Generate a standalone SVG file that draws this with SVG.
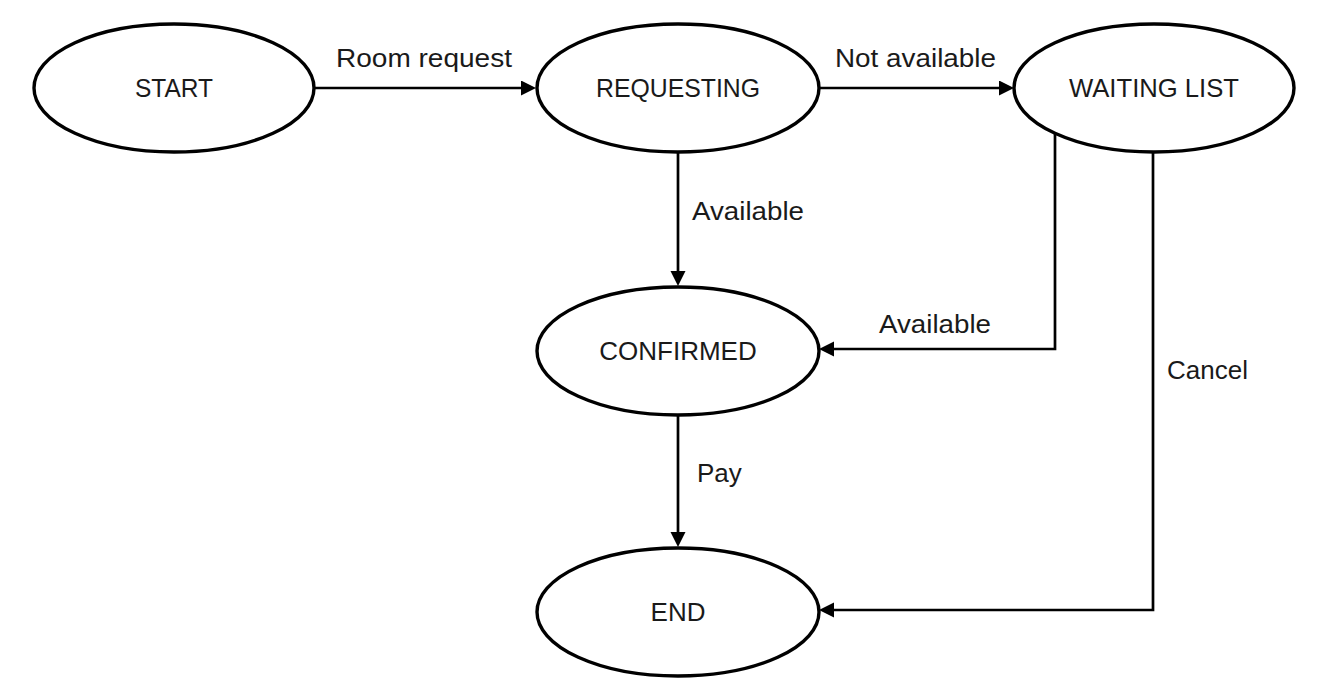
<svg xmlns="http://www.w3.org/2000/svg" width="1330" height="684" viewBox="0 0 1330 684">
  <style>
    .node ellipse { fill: #ffffff; stroke: #000000; stroke-width: 3.4; }
    .node text { font-family: "Liberation Sans", Arial, sans-serif; font-size: 26px; fill: #1a1a1a; text-anchor: middle; }
    .edge { fill: none; stroke: #000000; stroke-width: 2.7; marker-end: url(#arrow); }
    .label { font-family: "Liberation Sans", Arial, sans-serif; font-size: 26px; fill: #1a1a1a; }
  </style>
  <defs>
    <marker id="arrow" markerUnits="userSpaceOnUse" markerWidth="16" markerHeight="16" refX="8" refY="7.5" orient="auto">
      <path d="M0,0 L15,7.5 L0,15 z" fill="#000000"/>
    </marker>
  </defs>
  <rect width="1330" height="684" fill="#ffffff"/>

  <g id="connectors">
    <path class="edge" d="M314,88 H529"/>
    <path class="edge" d="M819,88 H1007"/>
    <path class="edge" d="M678,152 V279"/>
    <path class="edge" d="M1055,133 V349 H826"/>
    <path class="edge" d="M1153,152 V610 H826"/>
    <path class="edge" d="M678,415 V540"/>
    <text class="label" x="336" y="67" textLength="176" lengthAdjust="spacingAndGlyphs">Room request</text>
    <text class="label" x="835" y="67" textLength="161" lengthAdjust="spacingAndGlyphs">Not available</text>
    <text class="label" x="692" y="220" textLength="112" lengthAdjust="spacingAndGlyphs">Available</text>
    <text class="label" x="879" y="333" textLength="112" lengthAdjust="spacingAndGlyphs">Available</text>
    <text class="label" x="1167" y="379">Cancel</text>
    <text class="label" x="697" y="482">Pay</text>
  </g>

  <g id="start" class="node">
    <ellipse cx="174" cy="88" rx="140" ry="64"/>
    <text x="174" y="97" textLength="78" lengthAdjust="spacingAndGlyphs">START</text>
  </g>
  <g id="requesting" class="node">
    <ellipse cx="678" cy="88" rx="141" ry="64"/>
    <text x="678" y="97" textLength="164" lengthAdjust="spacingAndGlyphs">REQUESTING</text>
  </g>
  <g id="waiting-list" class="node">
    <ellipse cx="1154" cy="88" rx="140" ry="64"/>
    <text x="1154" y="97" textLength="170" lengthAdjust="spacingAndGlyphs">WAITING LIST</text>
  </g>
  <g id="confirmed" class="node">
    <ellipse cx="678" cy="351" rx="141" ry="64"/>
    <text x="678" y="360">CONFIRMED</text>
  </g>
  <g id="end" class="node">
    <ellipse cx="678" cy="612" rx="141" ry="64"/>
    <text x="678" y="621">END</text>
  </g>
</svg>
